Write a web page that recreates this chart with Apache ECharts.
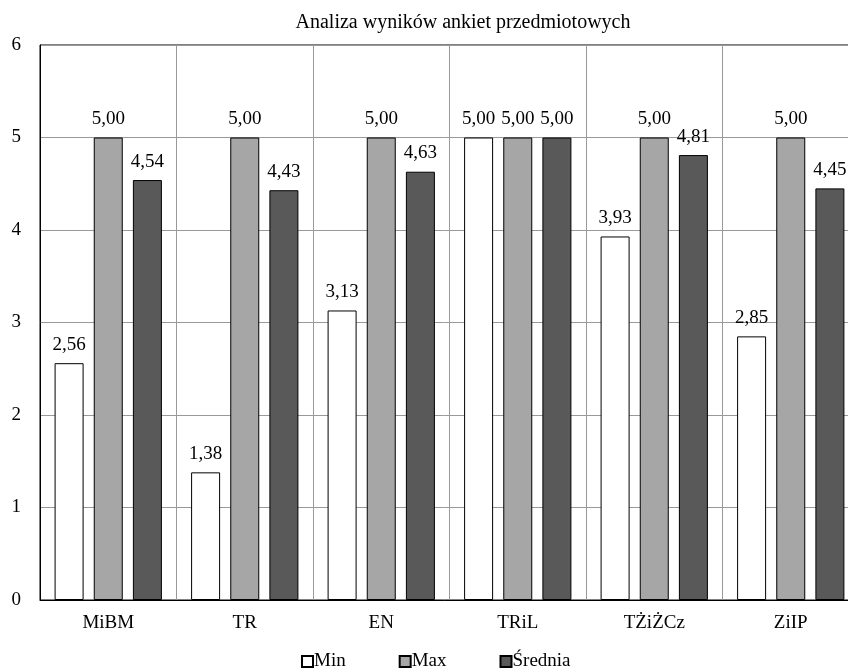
<!DOCTYPE html>
<html>
<head>
<meta charset="utf-8">
<script src="https://cdn.jsdelivr.net/npm/echarts@6/dist/echarts.min.js"></script>
<style>
html,body{margin:0;padding:0;background:#fff;}
#chart{width:848px;height:672px;}
</style>
</head>
<body>
<div id="chart"></div>
<script>
var categories = ['MiBM', 'TR', 'EN', 'TRiL', 'TŻiŻCz', 'ZiIP'];
var minValues = [2.56, 1.38, 3.13, 5.00, 3.93, 2.85];
var maxValues = [5.00, 5.00, 5.00, 5.00, 5.00, 5.00];
var avgValues = [4.54, 4.43, 4.63, 5.00, 4.81, 4.45];
var seriesNames = ['Min', 'Max', 'Średnia'];
var titleText = 'Analiza wyników ankiet przedmiotowych';

var FONT = '"Liberation Serif", "Times New Roman", serif';
var chart = echarts.init(document.getElementById('chart'), null, {renderer: 'canvas'});

function makeSeries(name, data, color) {
  return {
    name: name,
    type: 'bar',
    data: data,
    barWidth: 29,
    barGap: '35%',
    itemStyle: {color: color, borderColor: '#000', borderWidth: 1},
    label: {
      show: true,
      position: 'top',
      distance: 9,
      color: '#000',
      fontFamily: FONT,
      fontSize: 19,
      formatter: function (p) { return p.value.toFixed(2).replace('.', ','); }
    },
    emphasis: {disabled: true}
  };
}

chart.setOption({
  animation: false,
  backgroundColor: '#fff',
  title: {
    text: titleText,
    left: 463,
    top: 13,
    padding: 0,
    textAlign: 'center',
    textStyle: {fontFamily: FONT, fontSize: 20, fontWeight: 'normal', color: '#000'}
  },
  legend: {
    data: seriesNames,
    left: 301,
    top: 652,
    padding: 0,
    itemWidth: 11,
    itemHeight: 11,
    itemGap: 53,
    icon: 'rect',
    textStyle: {fontFamily: FONT, fontSize: 19, color: '#000', padding: [0, 0, 0, -4]}
  },
  grid: {
    left: 40,
    top: 45,
    width: 819,
    height: 555,
    show: true,
    borderColor: '#000',
    borderWidth: 1,
    containLabel: false,
    outerBoundsMode: 'none'
  },
  xAxis: {
    type: 'category',
    data: categories,
    axisLine: {show: true, lineStyle: {color: '#000', width: 1}},
    axisTick: {show: false},
    splitLine: {show: true, interval: 0, lineStyle: {color: '#999', width: 1}},
    axisLabel: {fontFamily: FONT, fontSize: 19, color: '#000', margin: 14, interval: 0}
  },
  yAxis: {
    type: 'value',
    min: 0,
    max: 6,
    interval: 1,
    axisLine: {show: true, lineStyle: {color: '#000'}},
    axisTick: {show: false},
    splitLine: {show: true, lineStyle: {color: '#999', width: 1}},
    axisLabel: {fontFamily: FONT, fontSize: 19, color: '#000', margin: 19}
  },
  series: [
    makeSeries(seriesNames[0], minValues, '#ffffff'),
    makeSeries(seriesNames[1], maxValues, '#a6a6a6'),
    makeSeries(seriesNames[2], avgValues, '#595959')
  ]
});
</script>
</body>
</html>
